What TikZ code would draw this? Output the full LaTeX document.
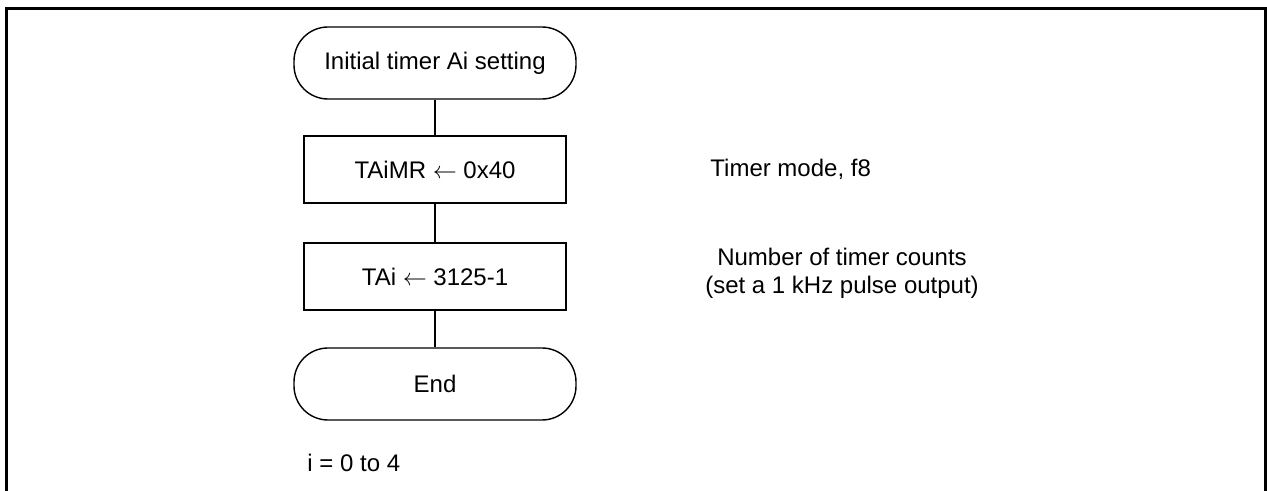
\documentclass[tikz,border=0pt]{standalone}
\usepackage{fontspec}
\setmainfont{Liberation Sans}
\usetikzlibrary{positioning}

\begin{document}
\begin{tikzpicture}[x=0.5pt,y=0.5pt,
                       font=\fontsize{12}{14}\selectfont,
                       term node/.style={rectangle,rounded corners=17pt,draw,line width=0.7pt,
                                         minimum width=141pt,minimum height=36pt},
                       proc node/.style={rectangle,draw,line width=0.7pt,
                                         minimum width=131pt,minimum height=33.5pt},
                       note node/.style={inner sep=0pt}
                      ]
   \useasboundingbox (0,0) rectangle (1267,491);
   % frame
   \draw[line width=1.5pt] (6,-5) -- (6,482) -- (1265,482) -- (1265,-5);
   \node[term node] (start) at (435,428) {Initial timer Ai setting};
   \node[proc node] (mr)    at (435,321.5) {TAiMR $\leftarrow$ 0x40};
   \node[proc node] (cnt)   at (435,214.5) {TAi $\leftarrow$ 3125-1};
   \node[term node] (stop)  at (435,107) {End};
   \node[note node,anchor=west] (mrnote) at (710,321.5) {Timer mode, f8};
   \node[note node,align=center] (cntnote) at (842,218)
        {Number of timer counts\\(set a 1 kHz pulse output)};
   \node[note node,anchor=west] (range) at (307,28) {i = 0 to 4};
   \path[draw,line width=0.7pt]%
    (start) edge (mr)
    (mr) edge (cnt)
    (cnt) edge (stop);
  \end{tikzpicture}
\end{document}
